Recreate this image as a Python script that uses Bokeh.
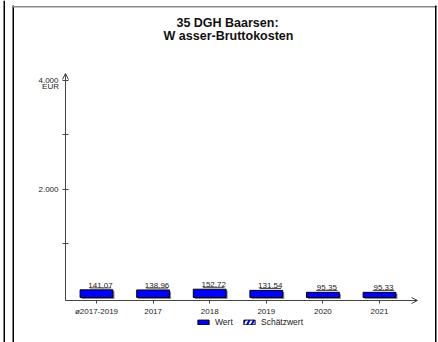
from bokeh.plotting import figure
from bokeh.models import (Range1d, FixedTicker, Label, Arrow, OpenHead, BoxAnnotation,
                          Legend, LegendItem)
from bokeh.embed import file_html
from bokeh.resources import INLINE
from bokeh.core.properties import value

# ---- data ----
categories = ["ø2017-2019", "2017", "2018", "2019", "2020", "2021"]
values = [141.07, 138.96, 152.72, 131.54, 95.35, 95.33]
value_labels = ["141,07", "138,96", "152,72", "131,54", "95,35", "95,33"]
y_ticks = [1000, 2000, 3000, 4000]
y_tick_labels = {1000: "", 2000: "2.000", 3000: "", 4000: "4.000"}
title_lines = ["35 DGH Baarsen:", "W asser-Bruttokosten"]
unit_label = "EUR"
legend_labels = ["Wert", "Schätzwert"]

FONT = "Liberation Sans"
TXT = "#222222"
AX = "#444444"

W, H = 438, 342
xs = list(range(len(categories)))
# data ranges spanning the whole canvas
x_start, x_end = -1.696, 6.042
y_start, y_end = -829.5, 5474.7
axis_x = -0.548      # where the value axis stands
axis_y = -55.3       # where the category axis stands
arrow_x_end = 5.671
arrow_y_end = 4129

p = figure(width=W, height=H, output_backend="svg", toolbar_location=None,
           x_range=Range1d(x_start, x_end), y_range=Range1d(y_start, y_end),
           min_border=0, min_border_left=0, min_border_right=0,
           min_border_top=0, min_border_bottom=0)
p.title.visible = False
p.xgrid.visible = False
p.ygrid.visible = False
p.outline_line_color = None
p.background_fill_color = "white"
p.border_fill_color = "white"

# y axis
p.yaxis.fixed_location = axis_x
p.yaxis.ticker = FixedTicker(ticks=y_ticks)
p.yaxis.major_label_overrides = y_tick_labels
p.yaxis.minor_tick_line_color = None
p.yaxis.major_tick_in = 3
p.yaxis.major_tick_out = 3
p.yaxis.major_label_standoff = 4
p.yaxis.axis_line_color = None
p.yaxis.major_tick_line_color = AX
p.yaxis.major_label_text_font = FONT
p.yaxis.major_label_text_font_size = "8px"
p.yaxis.major_label_text_color = TXT

# x axis
p.xaxis.fixed_location = axis_y
p.xaxis.ticker = FixedTicker(ticks=xs)
p.xaxis.major_label_overrides = {i: c for i, c in zip(xs, categories)}
p.xaxis.minor_tick_line_color = None
p.xaxis.major_tick_in = 0
p.xaxis.major_tick_out = 3
p.xaxis.major_label_standoff = 3
p.xaxis.axis_line_color = None
p.xaxis.major_tick_line_color = AX
p.xaxis.major_label_text_font = FONT
p.xaxis.major_label_text_font_size = "8px"
p.xaxis.major_label_text_color = TXT

# bars (shadow + bar)
p.vbar(x=[x + 0.027 for x in xs], top=[v - 28 for v in values], bottom=-28, width=0.58,
       fill_color="#888888", line_color=None)
r_bar = p.vbar(x=xs, top=values, bottom=0, width=0.58,
               fill_color="#0000FF", line_color="#000000", line_width=1)
# "Schätzwert" series: no estimated values in this chart (legend entry only)
est_x = [float("nan")]
est_values = [float("nan")]
r_est = p.vbar(x=est_x, top=est_values, bottom=0, width=0.58, fill_color="white",
               line_color="#000000", hatch_pattern="right_diagonal_line",
               hatch_color="#0000FF", hatch_scale=9, hatch_weight=2)

# value labels with underline
p.text(x=[x + 0.07 for x in xs], y=[v + 85 for v in values], text=value_labels,
       text_font=value(FONT), text_font_size="8px", text_align="center",
       text_baseline="alphabetic", text_color=TXT)
p.segment(x0=[x + 0.07 - 0.19 for x in xs], y0=[v + 35 for v in values],
          x1=[x + 0.07 + 0.19 for x in xs], y1=[v + 35 for v in values],
          line_color=AX, line_width=1)

# axis lines with open arrow heads
p.add_layout(Arrow(end=OpenHead(size=6, line_color=AX, line_width=1),
                   x_start=axis_x, y_start=axis_y, x_end=axis_x, y_end=arrow_y_end,
                   line_color=AX, line_width=1))
p.add_layout(Arrow(end=OpenHead(size=6, line_color=AX, line_width=1),
                   x_start=axis_x, y_start=axis_y, x_end=arrow_x_end, y_end=axis_y,
                   line_color=AX, line_width=1))

# title and unit
p.add_layout(Label(x=227, y=H - 29, x_units="screen", y_units="screen", text=title_lines[0],
                   text_align="center", text_font=FONT, text_font_size="12.5px",
                   text_font_style="bold", text_color="#111111"))
p.add_layout(Label(x=228, y=H - 42, x_units="screen", y_units="screen", text=title_lines[1],
                   text_align="center", text_font=FONT, text_font_size="12.5px",
                   text_font_style="bold", text_color="#111111"))
p.add_layout(Label(x=50, y=H - 90, x_units="screen", y_units="screen", text=unit_label,
                   text_align="center", text_font=FONT, text_font_size="8px",
                   text_color=TXT))

# legend
legend = Legend(items=[LegendItem(label=legend_labels[0], renderers=[r_bar]),
                       LegendItem(label=legend_labels[1], renderers=[r_est])],
                orientation="horizontal", location=(196, H - 327),
                glyph_width=14, glyph_height=6, label_height=8, label_standoff=5,
                spacing=7, padding=0, margin=0, border_line_color=None,
                background_fill_alpha=0, label_text_font=FONT,
                label_text_font_size="8.5px", label_text_color=TXT)
p.add_layout(legend)

# page frame lines
def box(l, r, b, t, color):
    return BoxAnnotation(left=l, right=r, bottom=b, top=t, left_units="screen",
                         right_units="screen", bottom_units="screen", top_units="screen",
                         fill_color=color, fill_alpha=1, line_color=None)

p.add_layout(box(3, 4.5, 0, H, "black"))
p.add_layout(box(12, 13.5, 0, H - 5, "black"))
p.add_layout(box(12, 436, H - 7, H - 5.5, "#888888"))
p.add_layout(box(434.5, 436, 0, H - 5, "black"))

open("out.html", "w").write(file_html(p, INLINE))
